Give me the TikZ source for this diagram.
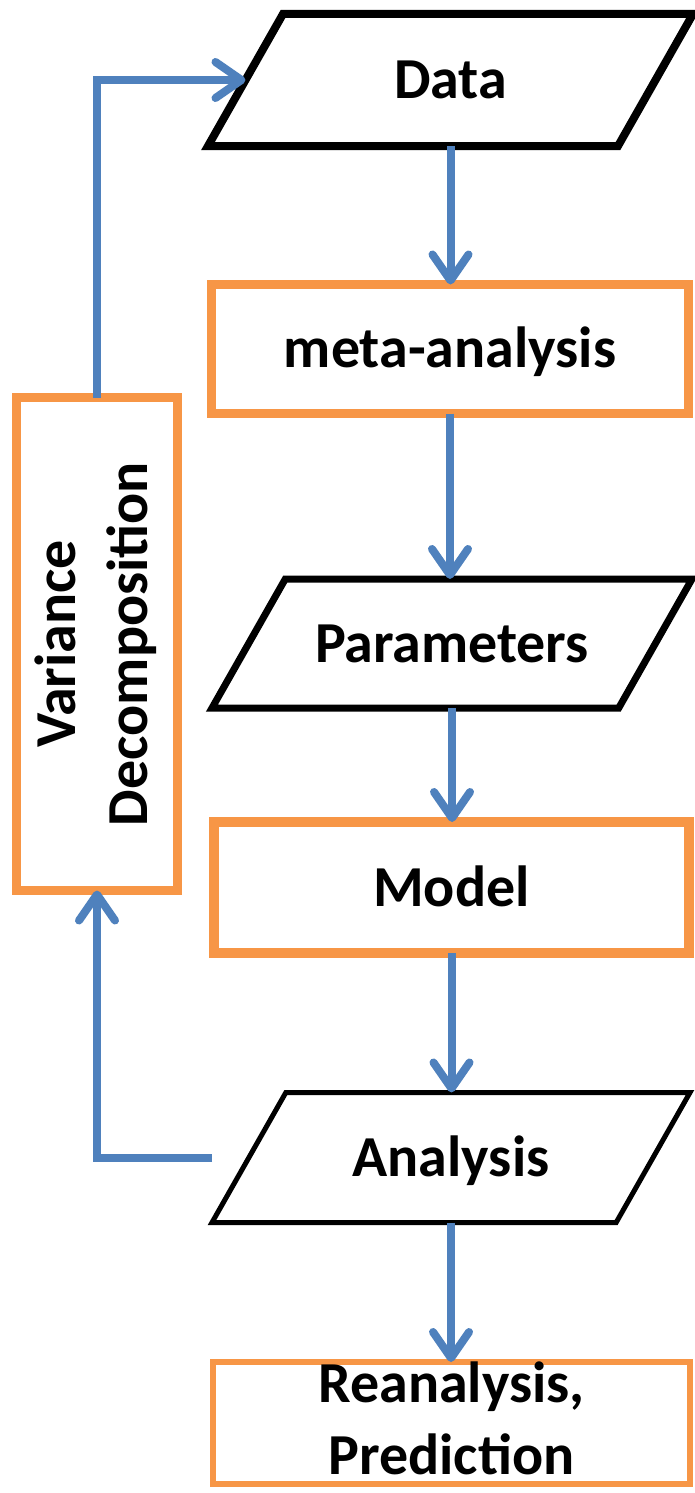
\documentclass[tikz,border=0pt]{standalone}
\usepackage{fontspec}
\setmainfont{Carlito}
\usetikzlibrary{shapes.geometric, arrows.meta, calc}
\definecolor{boxorange}{HTML}{F79646}
\definecolor{arrowblue}{HTML}{4F81BD}
\begin{document}
\begin{tikzpicture}[x=1pt, y=-1pt,
  every node/.style={font=\fontsize{58}{72}\selectfont\bfseries, inner sep=0pt, outer sep=0pt},
  procbox/.style={draw=boxorange, rectangle, fill=white, text height=37pt, text depth=0pt},
  iobox/.style={draw=black, trapezium, trapezium left angle=60.4, trapezium right angle=119.6,
    trapezium stretches body, fill=white, text height=37pt, text depth=0pt, inner xsep=0pt},
  flow/.style={draw=arrowblue, line width=8pt, line join=miter,
    -{Straight Barb[length=26pt, width=36pt, round]}}]
\fill[white] (0,0) rectangle (694,1493);
\useasboundingbox (0,0) rectangle (694,1493);

\node[iobox, line width=8pt, inner ysep=47.5pt, minimum width=485pt] (Data) at (450.5,80) {Data};
\node[procbox, line width=9pt, minimum width=477pt, minimum height=129pt] (Meta) at (450,349) {meta-analysis};
\node[iobox, line width=7pt, inner ysep=46pt, minimum width=480pt] (Params) at (452,643.5) {Parameters};
\node[procbox, line width=10pt, minimum width=475pt, minimum height=131pt] (Model) at (451.5,887.5) {Model};
\node[iobox, line width=5pt, inner ysep=46.5pt, minimum width=478pt] (Analysis) at (451,1157.5) {Analysis};
\node[procbox, line width=6pt, minimum width=477pt, minimum height=122pt, align=center, text height=103pt] (Reanal) at (451.5,1423) {Reanalysis,\\Prediction};
\node[draw=boxorange, rectangle, fill=white, line width=9pt, minimum width=161pt, minimum height=493pt] (VD) at (97,644)
  {\rotatebox{90}{\begin{tabular}{@{}c@{}}Variance\\Decomposition\end{tabular}}};

\draw[flow] (Data.south) -- (Data.south |- Meta.north);
\draw[flow] (Meta.south) -- (Meta.south |- Params.north);
\draw[flow] (Params.south) -- (Params.south |- Model.north);
\draw[flow] (Model.south) -- (Model.south |- Analysis.north);
\draw[flow] (Analysis.south) -- (Analysis.south |- Reanal.north);
\draw[flow] (Analysis.bottom left corner |- Analysis.center) -| (VD.south);
\draw[flow] (VD.north) |- (Data.left side);
\end{tikzpicture}
\end{document}
